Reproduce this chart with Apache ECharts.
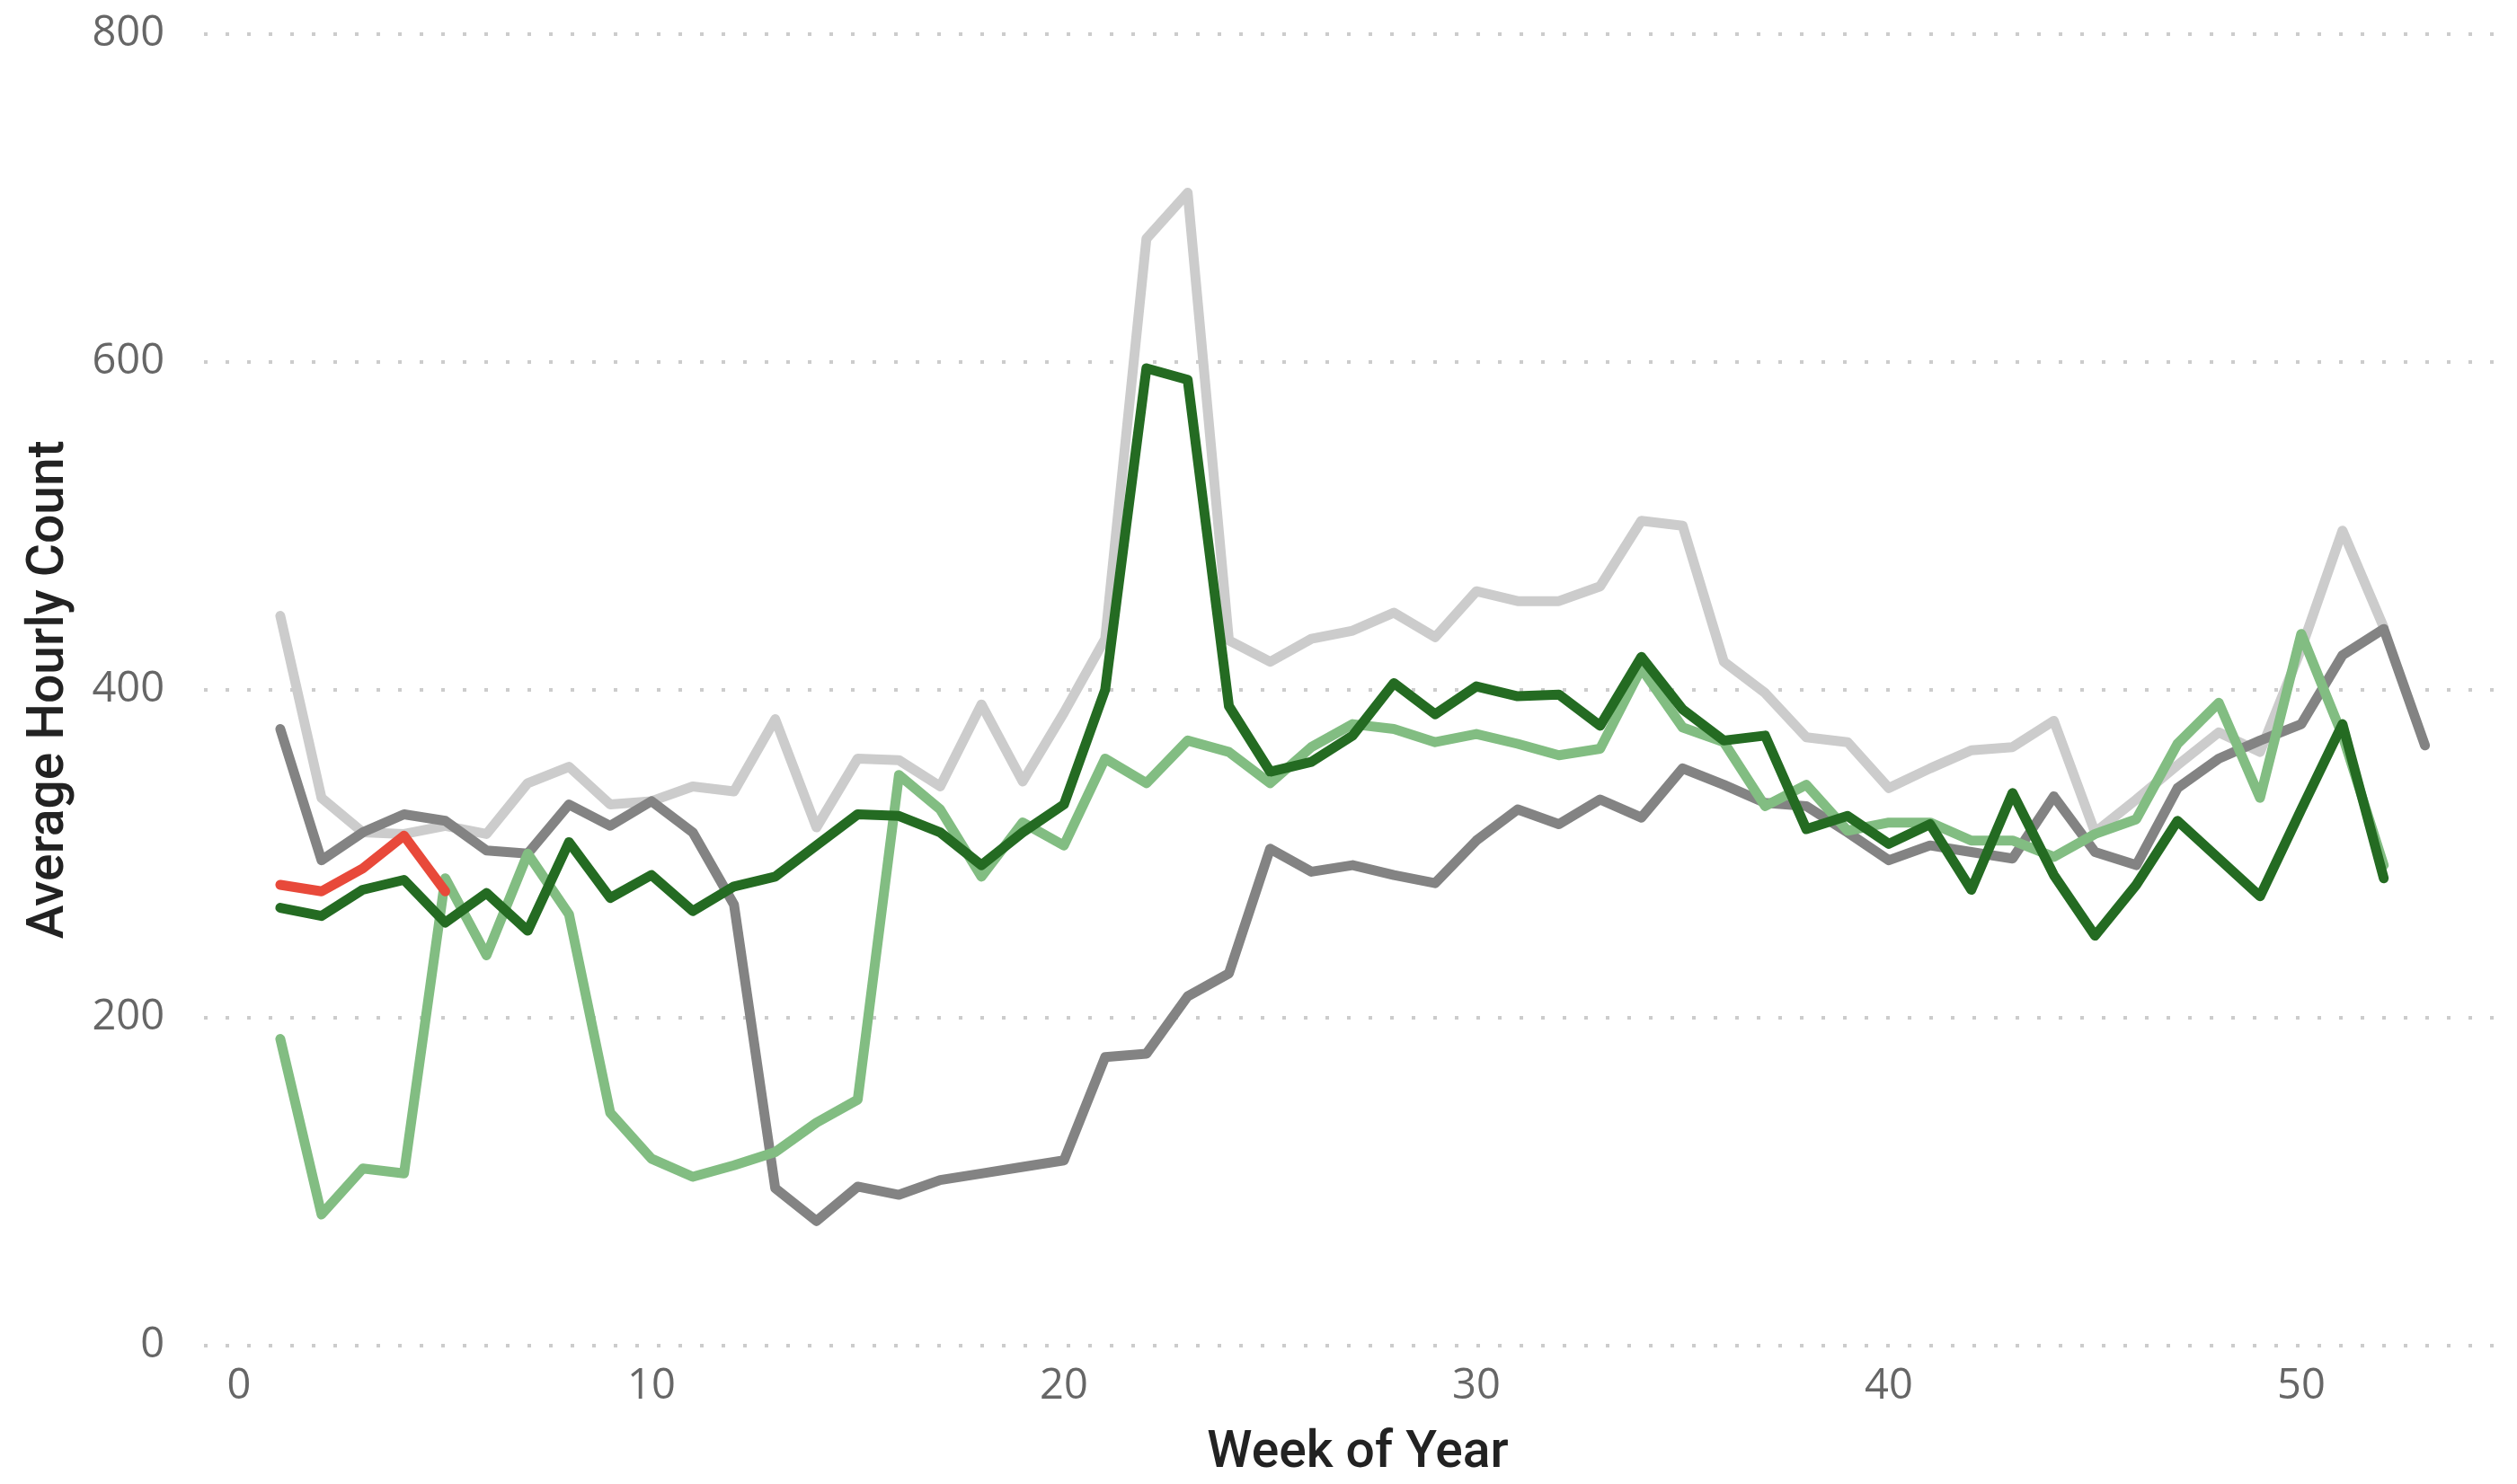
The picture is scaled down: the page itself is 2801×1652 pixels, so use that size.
<!DOCTYPE html>
<html>
<head>
<meta charset="utf-8">
<script src="https://cdn.jsdelivr.net/npm/echarts@6/dist/echarts.min.js"></script>
<style>
  html, body { margin: 0; padding: 0; background: #fff; }
  #main { width: 2801px; height: 1652px; }
</style>
</head>
<body>
<div id="main"></div>
<script>
// average hourly count per week of year, one array per year (week 1 first)
var y2019 = [445, 334, 313, 312, 317, 312, 343, 353, 330, 332, 341, 338, 382, 316, 358, 357,
  341, 391, 344, 386, 431, 675, 703, 430, 417, 431, 436, 447, 432, 460, 454, 454, 463, 503,
  500, 417, 398, 371, 368, 340, 352, 363, 365, 381, 313, 333, 354, 374, 362, 425, 497, 438];
var y2020 = [376, 296, 313, 324, 320, 302, 300, 330, 317, 332, 313, 269, 96, 76, 97, 92,
  101, 105, 109, 113, 176, 178, 213, 227, 303, 289, 293, 287, 282, 308, 327, 318, 333, 322,
  352, 342, 331, 329, 313, 296, 305, 301, 297, 335, 301, 293, 340, 358, 369, 379, 421, 437, 366];
var y2021 = [187, 80, 108, 105, 285, 238, 300, 263, 142, 114, 103, 110, 118, 136, 150, 348,
  327, 286, 319, 305, 358, 343, 369, 362, 343, 365, 379, 376, 368, 373, 367, 360, 364, 413,
  377, 368, 329, 342, 314, 319, 319, 308, 308, 298, 312, 321, 367, 392, 334, 434, 372, 293];
var y2022 = [267, 262, 278, 284, 258, 276, 253, 307, 273, 287, 265, 280, 286, 305, 324, 323,
  313, 293, 313, 330, 400, 596, 589, 390, 350, 356, 372, 404, 385, 402, 396, 397, 378, 420,
  388, 369, 372, 315, 323, 306, 318, 278, 337, 287, 250, 281, 320, 297, 274, 327, 379, 285];
var y2023 = [281, 277, 291, 311, 277];

var xTicks = [0, 10, 20, 30, 40, 50];

function toPoints(arr) {
  return arr.map(function (v, i) { return [i + 1, v]; });
}

var chart = echarts.init(document.getElementById('main'));

function line(name, data, color, z) {
  return {
    name: name,
    type: 'line',
    data: toPoints(data),
    showSymbol: false,
    z: z,
    lineStyle: { color: color, width: 11, cap: 'round', join: 'round' }
  };
}

chart.setOption({
  animation: false,
  backgroundColor: '#ffffff',
  grid: { left: 227, right: 6, top: 37.5, bottom: 151.4 },
  xAxis: {
    type: 'value',
    min: -0.85,
    max: 55.1,
    name: 'Week of Year',
    nameLocation: 'middle',
    nameGap: 92,
    nameTextStyle: { fontFamily: 'Roboto', fontWeight: 500, fontSize: 57, color: '#222222' },
    axisLine: { show: false },
    axisTick: { show: false },
    splitLine: { show: false },
    axisLabel: {
      customValues: xTicks,
      margin: 22,
      fontFamily: 'Open Sans',
      fontSize: 47,
      color: '#666666'
    }
  },
  yAxis: {
    type: 'value',
    min: 0,
    max: 800,
    interval: 200,
    name: 'Average Hourly Count',
    nameLocation: 'middle',
    nameRotate: 90,
    nameGap: 143,
    nameTextStyle: { fontFamily: 'Roboto', fontWeight: 500, fontSize: 57, color: '#222222' },
    axisLine: { show: false },
    axisTick: { show: false },
    axisLabel: { margin: 44, fontFamily: 'Open Sans', fontSize: 47, color: '#666666' },
    splitLine: {
      lineStyle: { color: '#cccccc', width: 4, type: [4, 20] }
    }
  },
  series: [
    line('2019', y2019, '#cccccc', 1),
    line('2020', y2020, '#838383', 2),
    line('2021', y2021, '#82bd82', 3),
    line('2022', y2022, '#246b22', 4),
    line('2023', y2023, '#e8493a', 5)
  ]
});
</script>
</body>
</html>
